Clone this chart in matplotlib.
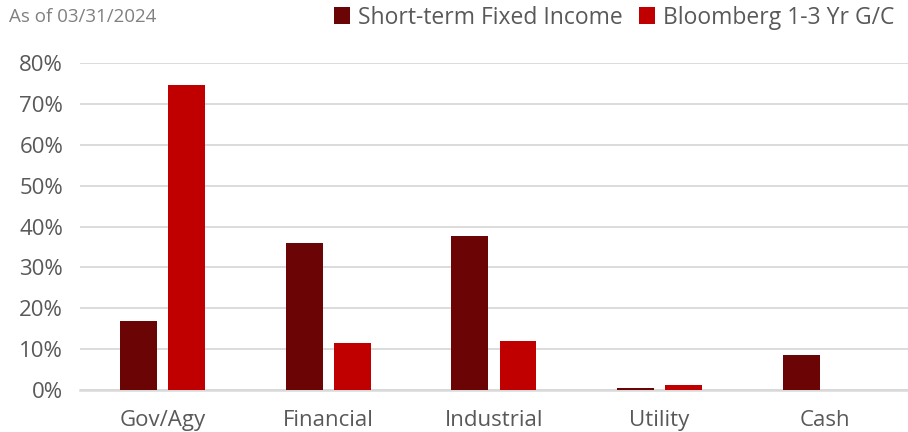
import numpy as np
import matplotlib.pyplot as plt
from matplotlib.ticker import FuncFormatter

categories = ["Gov/Agy", "Financial", "Industrial", "Utility", "Cash"]
fund = [17.0, 35.9, 37.6, 0.5, 8.5]
bench = [74.7, 11.6, 12.1, 1.2, 0.0]
series_names = ["Short-term Fixed Income", "Bloomberg 1-3 Yr G/C"]

DARK = "#6B0405"
RED = "#C00000"
TEXT = "#595959"

plt.rcParams["font.family"] = ["Open Sans", "DejaVu Sans"]

fig = plt.figure(figsize=(9.08, 4.32), dpi=100)
ax = fig.add_axes([0.088, 0.097, 0.912, 0.757])

x = np.arange(len(categories))
w = 0.223
off = 0.145
ax.bar(x - off, fund, w, color=DARK, label=series_names[0], zorder=3)
ax.bar(x + off, bench, w, color=RED, label=series_names[1], zorder=3)

ax.set_xlim(-0.5, len(categories) - 0.5)
ax.set_ylim(0, 80)
ax.set_yticks(np.arange(0, 81, 10))
ax.yaxis.set_major_formatter(FuncFormatter(lambda v, p: f"{v:.0f}%"))
ax.set_xticks(x)
ax.set_xticklabels(categories)
ax.grid(axis="y", color="#D9D9D9", linewidth=1.3, zorder=0)
for s in ["top", "right", "left"]:
    ax.spines[s].set_visible(False)
ax.spines["bottom"].set_color("#D9D9D9")
ax.spines["bottom"].set_linewidth(1.8)
ax.tick_params(axis="both", length=0, colors=TEXT, labelsize=16)
ax.tick_params(axis="x", pad=14)
ax.tick_params(axis="y", pad=12)

fig.text(0.01, 0.96, "As of 03/31/2024", color="#808080", fontsize=13.5, va="center")

leg = fig.legend(loc="upper right", bbox_to_anchor=(1.008, 1.035), ncol=2, frameon=False,
                 fontsize=16.5, handlelength=0.7, handleheight=0.7, handletextpad=0.35,
                 columnspacing=0.7)
for t in leg.get_texts():
    t.set_color(TEXT)

fig.savefig("out.png", dpi=100)
